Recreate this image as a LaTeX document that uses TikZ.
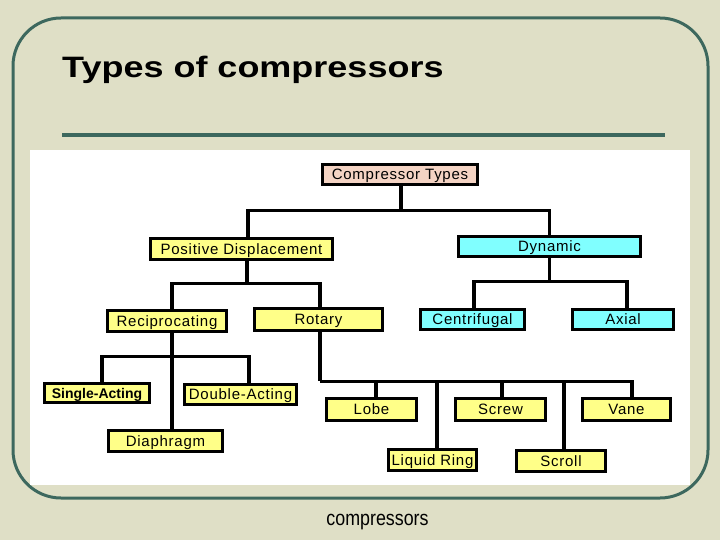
\documentclass[tikz,border=0pt]{standalone}
\usepackage{fontspec}
\setmainfont{Liberation Sans}
\newfontfamily\boxfont{Liberation Sans}[LetterSpace=5]
\definecolor{bg}{HTML}{DFDFC6}
\definecolor{frame}{HTML}{3D685E}
\definecolor{yel}{HTML}{FFFF88}
\definecolor{cya}{HTML}{80FFFF}
\definecolor{pnk}{HTML}{F4D3C3}
\begin{document}
\begin{tikzpicture}[x=1pt,y=-1pt,
  box/.style={draw=black, line width=3.2pt, inner sep=0pt, outer sep=0pt,
    font=\boxfont\fontsize{15}{15}\selectfont, text height=12pt, text depth=1.3pt},
  ybox/.style={box, fill=yel},
  cbox/.style={box, fill=cya},
  conn/.style={draw=black, line width=3.2pt, line join=miter}]
\useasboundingbox (0,0) rectangle (720,540);
\fill[bg] (0,0) rectangle (720,540);
\draw[frame, line width=3pt, rounded corners=48pt] (13,18) rectangle (708,498);
\fill[white] (30,150) rectangle (690,485);
\node[anchor=base west, inner sep=0pt] (title) at (62,78)
  {\scalebox{1.22}[1]{\fontsize{29.5}{30}\selectfont\bfseries Types of compressors}};
\draw[frame, line width=3.5pt] (62,135) -- (665,135);
\node[anchor=base, inner sep=0pt] (cap) at (377.5,525)
  {\scalebox{0.85}[1]{\fontsize{21}{21}\selectfont compressors}};

\node[box, fill=pnk, minimum width=154.8pt, minimum height=19.8pt] (ct) at (400,174.5) {Compressor Types};
\node[ybox, minimum width=181.8pt, minimum height=20.8pt] (pd) at (241.5,249) {Positive Displacement};
\node[cbox, minimum width=181.8pt, minimum height=19.8pt] (dyn) at (549.5,246.5) {Dynamic};
\node[ybox, minimum width=118.8pt, minimum height=20.8pt] (rec) at (167,321) {Reciprocating};
\node[ybox, minimum width=127.8pt, minimum height=21.8pt] (rot) at (318.5,319.5) {Rotary};
\node[cbox, minimum width=103.8pt, minimum height=19.8pt] (cen) at (472.5,319.5) {Centrifugal};
\node[cbox, minimum width=100.8pt, minimum height=19.8pt] (ax) at (623,319.5) {Axial};
\node[ybox, minimum width=104.8pt, minimum height=18.8pt, font=\bfseries\fontsize{14}{14}\selectfont] (sa) at (97,393) {Single-Acting};
\node[ybox, minimum width=111.8pt, minimum height=19.8pt] (da) at (240.5,394.5) {Double-Acting};
\node[ybox, minimum width=113.8pt, minimum height=20.8pt] (dia) at (165.5,441) {Diaphragm};
\node[ybox, minimum width=89.8pt, minimum height=21.8pt] (lobe) at (371.5,409.5) {Lobe};
\node[ybox, minimum width=87.8pt, minimum height=20.8pt] (lr) at (432.5,460) {Liquid Ring};
\node[ybox, minimum width=89.8pt, minimum height=21.8pt] (screw) at (500.5,409.5) {Screw};
\node[ybox, minimum width=88.8pt, minimum height=20.8pt] (scroll) at (561,461) {Scroll};
\node[ybox, minimum width=87.8pt, minimum height=21.8pt] (vane) at (626.5,409.5) {Vane};

\draw[conn] ([xshift=1pt]ct.south) -- ++(0,26) coordinate (j1);
\draw[conn] ([xshift=6.5pt]pd.north) |- (j1) -| (dyn.north);
\draw[conn] ([xshift=5.5pt]pd.south) -- ++(0,24) coordinate (j2);
\draw[conn] ([xshift=5pt]rec.north) |- (j2) -| ([xshift=1.5pt]rot.north);
\draw[conn] (dyn.south) -- ++(0,25) coordinate (j3);
\draw[conn] ([xshift=1.5pt]cen.north) |- (j3) -| ([xshift=4pt]ax.north);
\draw[conn] ([xshift=5pt]rec.south) -- ([xshift=6.5pt]dia.north);
\draw[conn] ([xshift=5pt]sa.north) |- ([xshift=5pt,yshift=-25pt]rec.south) -| ([xshift=8.5pt]da.north);
\draw[conn] ([xshift=1.5pt]rot.south) -- ++(0,51) coordinate (j5);
\draw[conn] (j5) -| ([xshift=5.5pt]vane.north);
\draw[conn] ([xshift=4.5pt]lobe.north) |- (j5);
\draw[conn] ([xshift=4.5pt]lr.north) |- (j5);
\draw[conn] ([xshift=1.5pt]screw.north) |- (j5);
\draw[conn] ([xshift=3pt]scroll.north) |- (j5);
\end{tikzpicture}
\end{document}
